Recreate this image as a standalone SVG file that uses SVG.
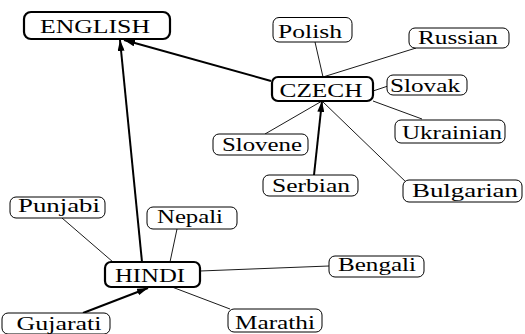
<svg xmlns="http://www.w3.org/2000/svg" width="525" height="334" viewBox="0 0 525 334">
<defs>
<style>
.n rect{fill:#fff;stroke:#000;stroke-width:1}
.m rect{fill:#fff;stroke:#000;stroke-width:2.2}
text{font-family:"Liberation Serif","Times New Roman",serif;font-size:19px;fill:#000;text-anchor:middle}
.e{stroke:#000;stroke-width:0.9;fill:none}
.a{stroke:#000;stroke-width:2;fill:none;marker-end:url(#ah)}
</style>
<marker id="ah" markerUnits="userSpaceOnUse" markerWidth="11" markerHeight="7" refX="11" refY="3.5" orient="auto">
<path d="M0,0 L11,3.5 L0,7 z" fill="#000"/>
</marker>
</defs>
<rect width="525" height="334" fill="#fff"/>
<g id="connectors">
<line class="e" x1="315" y1="42" x2="323" y2="77"/>
<line class="e" x1="416" y1="48" x2="323" y2="77"/>
<line class="e" x1="373" y1="91" x2="388" y2="86"/>
<line class="e" x1="373" y1="101" x2="422" y2="119"/>
<line class="e" x1="322" y1="101" x2="265" y2="134"/>
<line class="e" x1="322" y1="101" x2="408" y2="184"/>
<line class="e" x1="62" y1="218" x2="113" y2="262"/>
<line class="e" x1="177" y1="229" x2="170" y2="262"/>
<line class="e" x1="200" y1="271" x2="329" y2="266"/>
<line class="e" x1="172" y1="287" x2="230" y2="309"/>
<line class="a" x1="142" y1="262" x2="120" y2="40"/>
<line class="a" x1="271" y1="81" x2="124" y2="40"/>
<line class="a" x1="314" y1="175" x2="322" y2="101"/>
<line class="a" x1="83" y1="313" x2="148" y2="288"/>
</g>
<g id="english" class="m"><rect x="24" y="12" width="146" height="27" rx="7"/><text x="95" y="33" textLength="110" lengthAdjust="spacingAndGlyphs">ENGLISH</text></g>
<g id="czech" class="m"><rect x="272" y="77" width="101" height="24" rx="6"/><text x="321" y="97" textLength="83" lengthAdjust="spacingAndGlyphs">CZECH</text></g>
<g id="hindi" class="m"><rect x="105" y="262" width="95" height="25" rx="6"/><text x="150" y="282" textLength="70" lengthAdjust="spacingAndGlyphs">HINDI</text></g>
<g id="polish" class="n"><rect x="273" y="17.5" width="79" height="24.5" rx="6"/><text x="310" y="38" textLength="64" lengthAdjust="spacingAndGlyphs">Polish</text></g>
<g id="russian" class="n"><rect x="409" y="28" width="100" height="20" rx="6"/><text x="458" y="44" textLength="80" lengthAdjust="spacingAndGlyphs">Russian</text></g>
<g id="slovak" class="n"><rect x="387" y="75" width="80" height="20" rx="6"/><text x="425" y="92" textLength="70" lengthAdjust="spacingAndGlyphs">Slovak</text></g>
<g id="ukrainian" class="n"><rect x="395" y="120" width="110" height="23" rx="6"/><text x="452" y="139" textLength="100" lengthAdjust="spacingAndGlyphs">Ukrainian</text></g>
<g id="slovene" class="n"><rect x="213" y="134" width="95" height="21" rx="6"/><text x="262" y="151" textLength="80" lengthAdjust="spacingAndGlyphs">Slovene</text></g>
<g id="serbian" class="n"><rect x="263" y="175" width="95" height="21" rx="6"/><text x="311" y="192" textLength="78" lengthAdjust="spacingAndGlyphs">Serbian</text></g>
<g id="bulgarian" class="n"><rect x="403" y="180" width="119" height="22" rx="6"/><text x="465" y="197" textLength="106" lengthAdjust="spacingAndGlyphs">Bulgarian</text></g>
<g id="punjabi" class="n"><rect x="10" y="197" width="95" height="21" rx="6"/><text x="59" y="212" textLength="82" lengthAdjust="spacingAndGlyphs">Punjabi</text></g>
<g id="nepali" class="n"><rect x="147" y="207" width="90" height="22" rx="6"/><text x="190" y="223" textLength="66" lengthAdjust="spacingAndGlyphs">Nepali</text></g>
<g id="bengali" class="n"><rect x="329" y="256" width="95" height="21" rx="6"/><text x="377" y="271" textLength="78" lengthAdjust="spacingAndGlyphs">Bengali</text></g>
<g id="gujarati" class="n"><rect x="2" y="313" width="108" height="21" rx="6"/><text x="59" y="330" textLength="85" lengthAdjust="spacingAndGlyphs">Gujarati</text></g>
<g id="marathi" class="n"><rect x="228" y="309" width="94" height="23" rx="6"/><text x="275" y="329" textLength="80" lengthAdjust="spacingAndGlyphs">Marathi</text></g>
</svg>
